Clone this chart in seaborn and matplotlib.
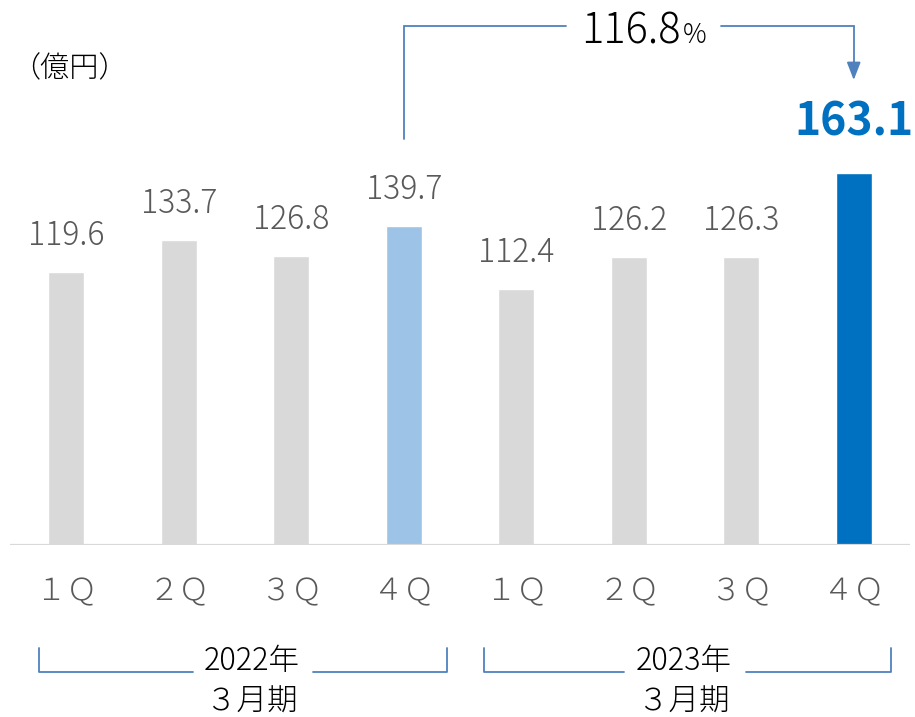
import matplotlib
matplotlib.use("Agg")
import matplotlib.pyplot as plt
import matplotlib.transforms as mtransforms
import seaborn as sns
import pandas as pd

# ---- data ----
periods = ["FY22-1Q", "FY22-2Q", "FY22-3Q", "FY22-4Q",
           "FY23-1Q", "FY23-2Q", "FY23-3Q", "FY23-4Q"]
quarter_labels = ["１Ｑ", "２Ｑ", "３Ｑ", "４Ｑ", "１Ｑ", "２Ｑ", "３Ｑ", "４Ｑ"]
values = [119.6, 133.7, 126.8, 139.7, 112.4, 126.2, 126.3, 163.1]
bar_colors = ["#d9d9d9", "#d9d9d9", "#d9d9d9", "#9dc3e6",
              "#d9d9d9", "#d9d9d9", "#d9d9d9", "#0070c0"]
fiscal_years = ["2022年", "2023年"]
fiscal_suffix = "３月期"
growth_value = "116.8"
growth_unit = "%"
unit_label = "（億円）"

sns.set_theme(style="white")
plt.rcParams["font.family"] = ["Noto Sans CJK JP", "DejaVu Sans"]

W, H = 915, 717
fig = plt.figure(figsize=(W / 100, H / 100), dpi=100)
base_px = 545
ax = fig.add_axes([10 / W, 1 - base_px / H, 900 / W, base_px / H])

df = pd.DataFrame({"period": periods, "value": values})
sns.barplot(data=df, x="period", y="value", hue="period",
            palette=dict(zip(periods, bar_colors)), legend=False,
            width=0.32, ax=ax, saturation=1)

S = 2.281  # px per unit
ax.set_ylim(0, base_px / S)
ax.set_xlim(-0.5, len(values) - 0.5)
for sp in ax.spines.values():
    sp.set_visible(False)
ax.axhline(0, color="#d9d9d9", lw=1.6, zorder=3)
ax.set_yticks([])
ax.set_xlabel("")
ax.set_ylabel("")
ax.set_xticks(range(len(values)))
ax.set_xticklabels(quarter_labels, fontsize=22, color="#595959", fontweight="light")
ax.tick_params(axis="x", length=0, pad=22)

# value labels
for i, v in enumerate(values):
    if i == len(values) - 1:
        ax.annotate(f"{v:.1f}", (i, v), xytext=(0, 27), textcoords="offset points",
                    ha="center", va="baseline", fontsize=32, fontweight="bold",
                    color="#0070c0")
    else:
        ax.annotate(f"{v:.1f}", (i, v), xytext=(0, 19.5), textcoords="offset points",
                    ha="center", va="baseline", fontsize=23, color="#595959",
                    fontweight="light")

line_color = "#4f81bd"

def u(px):  # px from top -> data units
    return (base_px - px) / S

# growth bracket
x0, x1 = 3, 7
top_y = u(26)
ax.plot([x0, x0, x0 + (565 - 403) / 112.5], [u(139), top_y, top_y],
        color=line_color, lw=1.3, clip_on=False, solid_joinstyle="miter")
xr = x0 + (720 - 403) / 112.5
ax.plot([xr, x1, x1], [top_y, top_y, u(66)], color=line_color, lw=1.3,
        clip_on=False, solid_joinstyle="miter")
ax.annotate("", xy=(x1, u(80)), xytext=(x1, u(62)),
            arrowprops=dict(arrowstyle="-|>,head_length=0.9,head_width=0.35",
                            color=line_color, lw=1.3, shrinkA=0, shrinkB=0),
            annotation_clip=False)
xg = x0 + (680 - 403) / 112.5
ax.text(xg, u(43), growth_value, ha="right", va="baseline", fontsize=30,
        color="#000000", clip_on=False, fontweight="light")
ax.text(xg + 2 / 112.5, u(43), growth_unit, ha="left", va="baseline", fontsize=19,
        color="#000000", clip_on=False, fontweight="light")

# unit label
ax.text(-0.5 + 1 / 112.5, u(77), unit_label, ha="left", va="baseline",
        fontsize=21, color="#000000", clip_on=False, fontweight="light")

# bottom fiscal-year brackets
trans = mtransforms.blended_transform_factory(ax.transData, ax.transAxes)
def ya(px):
    return (base_px - px) / base_px

# (left edge, left-seg end, text centre, right-seg start, right edge) offsets from group start
bracket_offsets = [(-0.24, 1.127, 1.651, 2.193, 3.384),
                   (-0.29, 0.958, 1.491, 2.042, 3.33)]
groups = [0, 4]
for g, a in enumerate(groups):
    l, le, tc, rs, r = [a + o for o in bracket_offsets[g]]
    yt, yb = ya(648), ya(672)
    ax.plot([l, l, le], [yt, yb, yb], transform=trans,
            color=line_color, lw=1.3, clip_on=False)
    ax.plot([rs, r, r], [yb, yb, yt], transform=trans,
            color=line_color, lw=1.3, clip_on=False)
    ax.text(tc, ya(670), fiscal_years[g], transform=trans, ha="center",
            va="baseline", fontsize=22, color="#000000", fontweight="light")
    ax.text(tc, ya(711), fiscal_suffix, transform=trans, ha="center",
            va="baseline", fontsize=22, color="#000000", fontweight="light")

fig.savefig("out.png", dpi=100)
